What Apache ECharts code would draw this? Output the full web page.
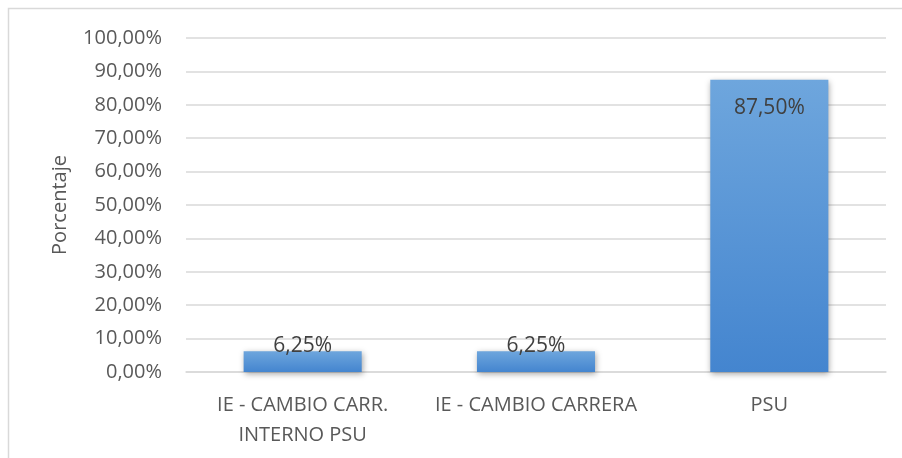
<!DOCTYPE html>
<html>
<head>
<meta charset="utf-8">
<script src="https://cdn.jsdelivr.net/npm/echarts@6/dist/echarts.min.js"></script>
<style>
  html, body { margin: 0; padding: 0; background: #fff; }
  #chart { width: 902px; height: 458px; }
</style>
</head>
<body>
<div id="chart"></div>
<script>
// datos
const categories = ['IE - CAMBIO CARR.\nINTERNO PSU', 'IE - CAMBIO CARRERA', 'PSU'];
const values = [6.25, 6.25, 87.5];
const yTicks = { min: 0, max: 100, interval: 10 };

const fmt = v => v.toFixed(2).replace('.', ',') + '%';
const textColor = '#595959';
const font = 'Open Sans';

const chart = echarts.init(document.getElementById('chart'));

const options = {
  animation: false,
  textStyle: { fontFamily: font },
  graphic: [{
    type: 'rect',
    shape: { x: 8.5, y: 8.5, width: 920, height: 480 },
    style: { fill: 'none', stroke: '#d9d9d9', lineWidth: 1.5 },
    silent: true
  }],
  grid: { left: 186, right: 16, top: 38, bottom: 86 },
  xAxis: {
    type: 'category',
    data: categories,
    axisLine: { lineStyle: { color: '#d9d9d9', width: 1.5 } },
    axisTick: { show: false },
    axisLabel: {
      color: textColor, fontSize: 20, fontFamily: font,
      margin: 18, lineHeight: 30, interval: 0
    }
  },
  yAxis: {
    type: 'value',
    min: yTicks.min,
    max: yTicks.max,
    interval: yTicks.interval,
    name: 'Porcentaje',
    nameLocation: 'middle',
    nameGap: 116,
    nameTextStyle: { color: textColor, fontSize: 20, fontFamily: font },
    axisLine: { show: false },
    axisTick: { show: false },
    axisLabel: {
      color: textColor, fontSize: 20, fontFamily: font, margin: 24,
      formatter: v => fmt(v)
    },
    splitLine: { lineStyle: { color: '#d9d9d9', width: 1.5 } }
  },
  series: [{
    type: 'bar',
    barWidth: '50.6%',
    data: values.map(v => ({
      value: v,
      label: v > 20
        ? { position: 'insideTop', distance: 18 }
        : { position: 'top', distance: -5 }
    })),
    itemStyle: {
      color: new echarts.graphic.LinearGradient(0, 0, 0, 1, [
        { offset: 0, color: '#6ea6dd' },
        { offset: 1, color: '#4485cf' }
      ]),
      shadowColor: 'rgba(0,0,0,0.35)',
      shadowBlur: 6,
      shadowOffsetX: 1,
      shadowOffsetY: 2
    },
    label: {
      show: true,
      color: '#404040',
      fontSize: 21,
      fontFamily: font,
      formatter: p => fmt(p.value)
    }
  }]
};

chart.setOption(options);
</script>
</body>
</html>
